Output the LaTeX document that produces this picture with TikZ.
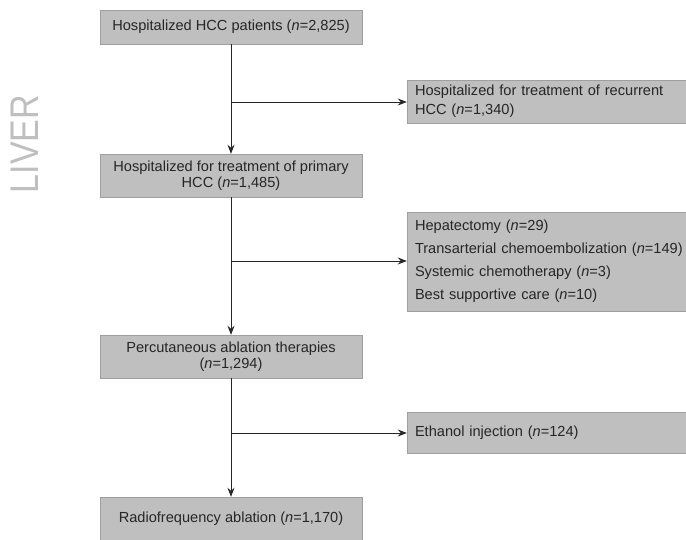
\documentclass[tikz,border=0pt]{standalone}
\usepackage{fontspec}
\setmainfont{Liberation Sans}
\usetikzlibrary{arrows.meta}
\tikzset{
  box/.style={fill=gray!50, draw=gray!75, line width=0.4pt, inner sep=0pt, font=\fontsize{14.6}{16.5}\selectfont, text=black!85, align=center},
  rbox/.style={box, align=left, inner xsep=8pt, text width=263pt},
  arr/.style={draw=black!85, line width=0.9pt, -{Stealth[length=9pt,width=7pt,inset=3pt]}}
}
\begin{document}
\begin{tikzpicture}[x=1pt,y=-1pt]
\useasboundingbox (0,0) rectangle (686,540);
% left label
\node[rotate=90, text=gray!50, font=\fontsize{40}{40}\selectfont, xscale=0.85] (liver) at (25,144) {LIVER};
% main column
\node[box, minimum width=262pt, minimum height=34pt] (b1) at (231,27) {Hospitalized HCC patients (\textit{n}=2,825)};
\node[box, minimum width=262pt, minimum height=43pt] (b2) at (231,175.5) {Hospitalized for treatment of primary\\HCC (\textit{n}=1,485)};
\node[box, minimum width=262pt, minimum height=43pt] (b3) at (231,356.5) {Percutaneous ablation therapies\\(\textit{n}=1,294)};
\node[box, minimum width=262pt, minimum height=43pt] (b4) at (231,518.5) {Radiofrequency ablation (\textit{n}=1,170)};
% right column
\node[rbox, minimum height=43pt, font=\fontsize{14.6}{19}\selectfont] (r1) at (546.5,101.5) {Hospitalized for treatment of recurrent\\HCC (\textit{n}=1,340)};
\node[rbox, minimum height=99pt, font=\fontsize{14.6}{23}\selectfont] (r2) at (546.5,261.5) {Hepatectomy (\textit{n}=29)\\\mbox{Transarterial chemoembolization (\textit{n}=149)}\\Systemic chemotherapy (\textit{n}=3)\\Best supportive care (\textit{n}=10)};
\node[rbox, minimum height=41pt] (r3) at (546.5,432.5) {Ethanol injection (\textit{n}=124)};
% junctions
\coordinate (j1) at (231,102);
\coordinate (j2) at (231,261);
\coordinate (j3) at (231,433);
% connectors
\draw[arr] (b1) -- (b2);
\draw[arr] (b2) -- (b3);
\draw[arr] (b3) -- (b4);
\draw[arr] (j1) -- (j1 -| r1.west);
\draw[arr] (j2) -- (j2 -| r2.west);
\draw[arr] (j3) -- (j3 -| r3.west);
\end{tikzpicture}
\end{document}
